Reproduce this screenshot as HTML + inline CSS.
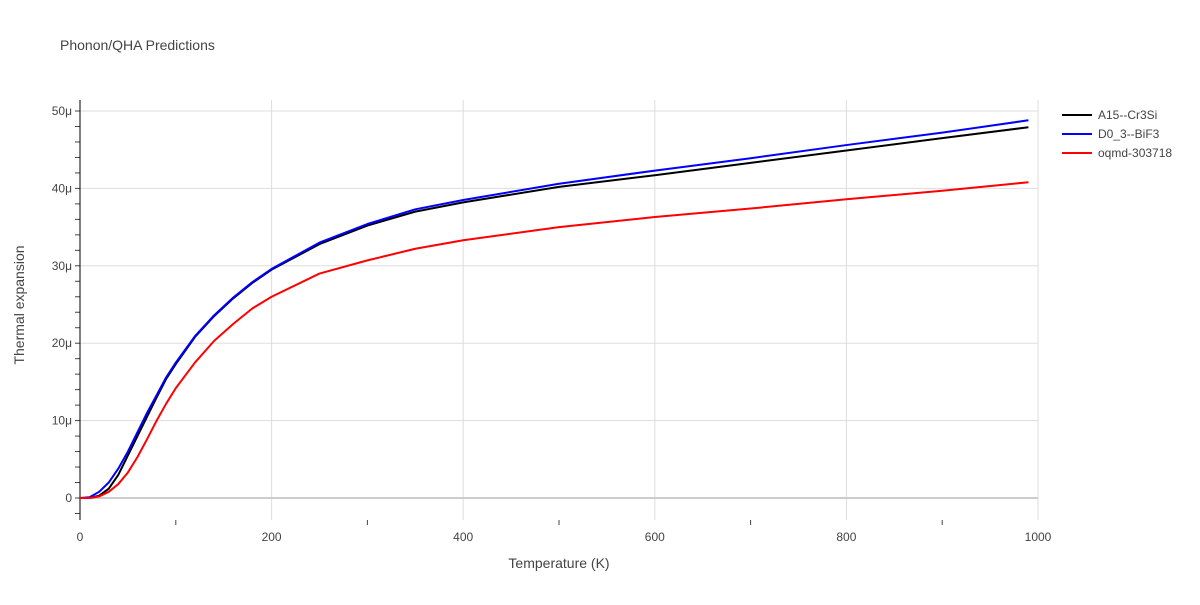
<!DOCTYPE html>
<html><head><meta charset="utf-8"><style>
body{margin:0;background:#fff;font-family:"Liberation Sans",sans-serif;}
text{font-family:"Liberation Sans",sans-serif;fill:#444;}
</style></head><body>
<svg id="chart" width="1200" height="600">
<text x="60" y="50" font-size="14">Phonon/QHA Predictions</text>
<g id="grid"></g><g id="axes"></g><g id="series"></g>
<text x="559" y="568" font-size="14" text-anchor="middle">Temperature (K)</text>
<text transform="translate(24,305) rotate(-90)" font-size="14" text-anchor="middle">Thermal expansion</text>
<g id="legend"></g>
</svg>
<script>
const temps=[0,10,20,30,40,50,60,70,80,90,100,120,140,160,180,200,250,300,350,400,500,600,700,800,900,990];
const seriesNames=["A15--Cr3Si","D0_3--BiF3","oqmd-303718"];
const seriesColors=["#000000","#0000ff","#ff0000"];
const blackVals=[0,0,0.3,1.2,3,5.5,8,10.5,13,15.4,17.3,20.8,23.5,25.8,27.8,29.5,32.8,35.2,37,38.2,40.2,41.7,43.3,44.9,46.5,47.9];
const blueVals=[0,0.1,0.8,2,3.8,6,8.5,11,13.3,15.6,17.5,20.9,23.6,25.9,27.9,29.6,33,35.4,37.3,38.5,40.6,42.3,43.9,45.6,47.2,48.8];
const redVals=[0,0,0.2,0.8,1.8,3.3,5.3,7.6,10,12.2,14.2,17.5,20.3,22.5,24.5,26,29,30.7,32.2,33.3,35,36.3,37.4,38.6,39.7,40.8];
const xTicks=[0,200,400,600,800,1000];
const yTicks=[0,10,20,30,40,50];
const yTickLabels=["0","10μ","20μ","30μ","40μ","50μ"];
const NS="http://www.w3.org/2000/svg";
const X=v=>80+v*0.958, Y=v=>498-v*7.74;
function mk(t,p,a){const e=document.createElementNS(NS,t);for(const k in a)e.setAttribute(k,a[k]);p.appendChild(e);return e;}
const g=document.getElementById('grid'),ax=document.getElementById('axes'),s=document.getElementById('series'),lg=document.getElementById('legend');
xTicks.forEach(t=>{if(t>0){const l=mk('line',g,{x1:X(t),x2:X(t),y1:100,y2:520,stroke:'#ddd'});

}
const tx=mk('text',ax,{x:X(t),y:541,'font-size':12,'text-anchor':'middle'});tx.textContent=t;

});
for(let t=100;t<1000;t+=200){mk('line',ax,{x1:X(t),x2:X(t),y1:520,y2:525,stroke:'#444'});}
yTicks.forEach((t,i)=>{const l=mk('line',g,{x1:80,x2:1038,y1:Y(t),y2:Y(t),stroke:t==0?'#ccc':'#ddd','stroke-width':t==0?2:1});


const tx=mk('text',ax,{x:72,y:Y(t)+4,'font-size':12,'text-anchor':'end'});tx.textContent=yTickLabels[i];

});
for(let v=-2;v<=50;v+=2){mk('line',ax,{x1:75,x2:80,y1:Y(v),y2:Y(v),stroke:'#444'});}
mk('line',ax,{x1:80,x2:80,y1:100,y2:520,stroke:'#000'});
[blackVals,blueVals,redVals].forEach((vals,i)=>{
const p=mk('polyline',s,{points:temps.map((t,j)=>X(t)+','+Y(vals[j])).join(' '),fill:'none',stroke:seriesColors[i],'stroke-width':2,'stroke-linejoin':'round'});


const ly=115+i*19;
const ll=mk('line',lg,{x1:1062,x2:1092,y1:ly,y2:ly,stroke:seriesColors[i],'stroke-width':2});


const lt=mk('text',lg,{x:1098,y:ly+4,'font-size':12});lt.textContent=seriesNames[i];

});
</script>
</body></html>
